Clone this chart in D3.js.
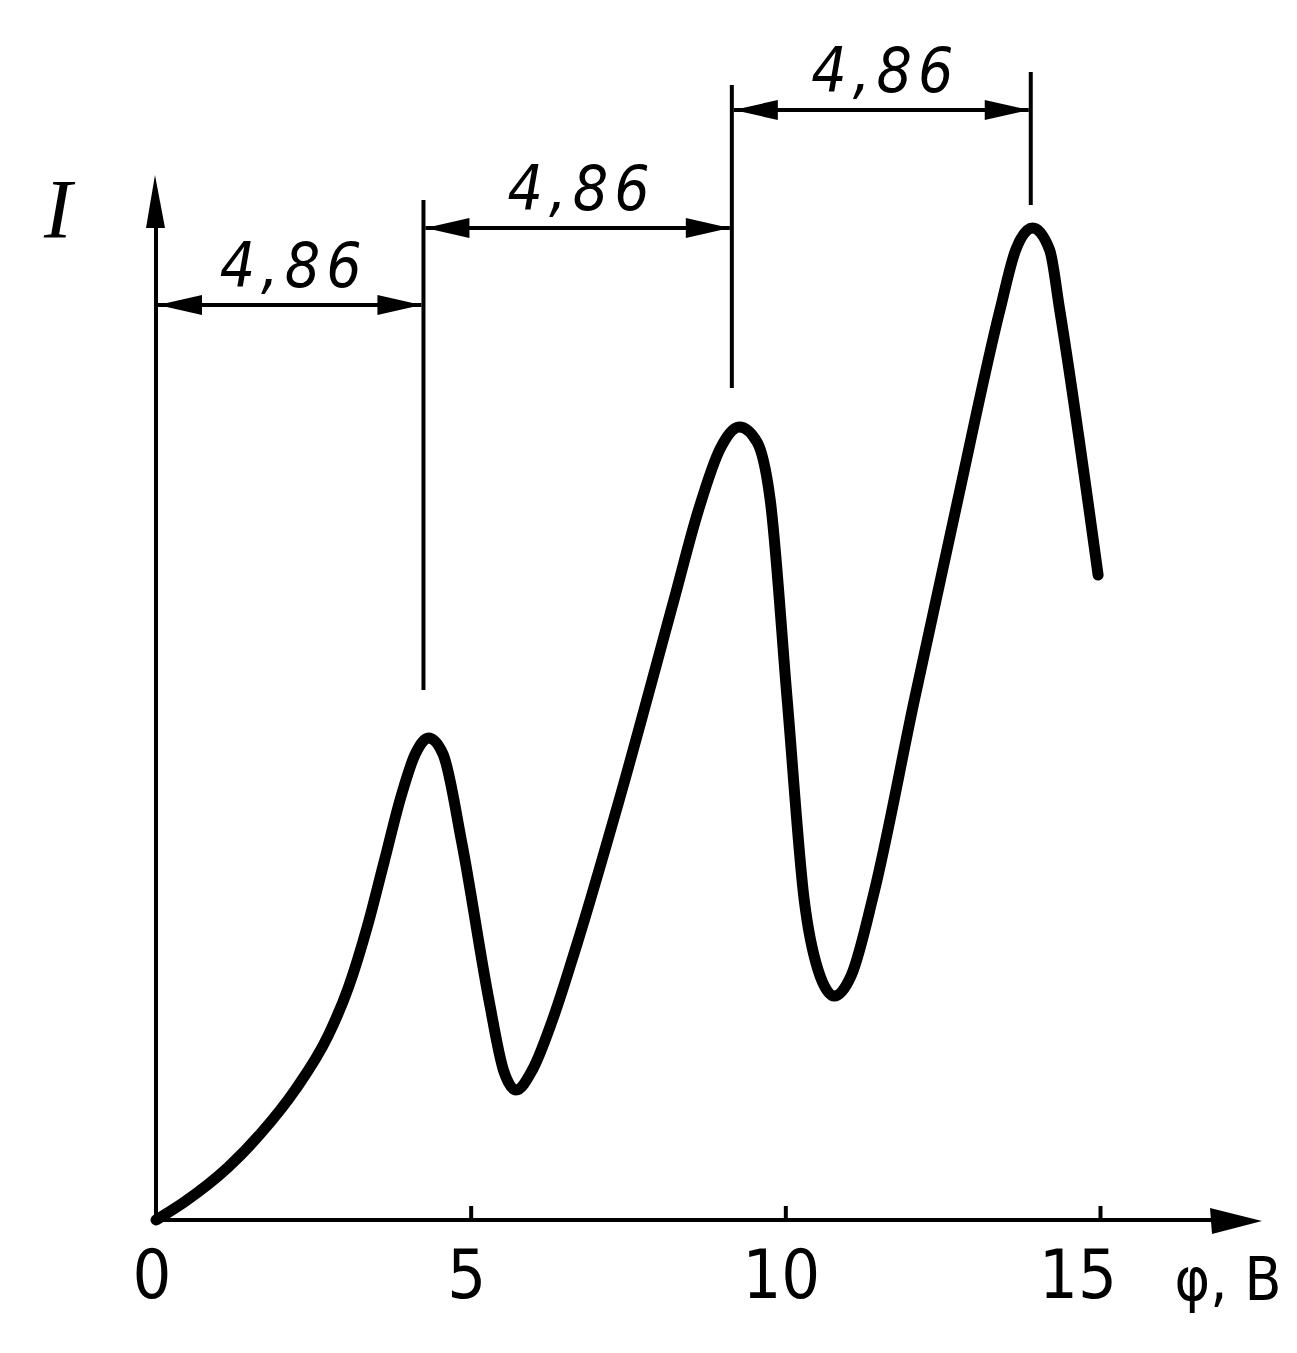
<!DOCTYPE html>
<html>
<head>
<meta charset="utf-8">
<script src="https://cdn.jsdelivr.net/npm/d3@7"></script>
<style>
  html, body { margin: 0; padding: 0; background: #fff; }
  svg { display: block; }
</style>
</head>
<body>
<script>
// ---- data ----
const voltage = [0, 0.45, 1.15, 1.67, 2.21, 2.74, 3.06, 3.36, 3.62, 3.90, 4.12, 4.33, 4.56, 4.86, 5.29, 5.52, 5.72, 5.98, 6.30, 6.67, 7.36, 8.23, 8.62, 8.97, 9.27, 9.55, 9.76, 10.03, 10.30, 10.52, 10.78, 11.05, 11.40, 12.05, 12.74, 13.41, 13.66, 13.93, 14.20, 14.36, 14.97];
const current = [0, 0.18, 0.53, 0.87, 1.30, 1.85, 2.33, 2.94, 3.57, 4.25, 4.66, 4.82, 4.66, 3.77, 2.20, 1.50, 1.30, 1.50, 2.00, 2.72, 4.20, 6.20, 7.10, 7.72, 7.93, 7.78, 7.20, 5.20, 3.20, 2.50, 2.24, 2.45, 3.25, 5.20, 7.20, 9.10, 9.70, 9.92, 9.70, 9.10, 6.45];
const xTickValues = [0, 5, 10, 15];
const xTickLabels = ["0", "5", "10", "15"];
const xAxisTitle = "φ, В";
const yAxisTitle = "I";
// spacing annotations between successive maxima
const markerU = [0, 4.25, 9.15, 13.9];          // extension line positions (V)
const markerTop = [10.4, 10.2, 11.35, 11.48];   // extension line tops (I units)
const markerBottom = [0, 5.3, 8.32, 10.15];     // extension line bottoms (I units)
const spanLevel = [9.15, 9.92, 11.1];           // dimension line level (I units)
const spanLabels = ["4,86", "4,86", "4,86"];

// ---- layout ----
const W = 1297, H = 1353;
const x = d3.scaleLinear().domain([0, 15]).range([156, 1100]);
const y = d3.scaleLinear().domain([0, 10]).range([1220, 220]);

const svg = d3.select("body").append("svg")
  .attr("width", W).attr("height", H)
  .style("background", "#fff");

const ink = "#000";

// axes
const gAxes = svg.append("g");
const x0 = x(0), y0 = y(0);
gAxes.append("line").attr("x1", x0).attr("y1", y0).attr("x2", 1225).attr("y2", y0)
  .attr("stroke", ink).attr("stroke-width", 4);
gAxes.append("path")
  .attr("d", `M1262,${y0 + 1} L1210,${y0 - 12} L1212,${y0 + 14} Z`).attr("fill", ink);
gAxes.append("line").attr("x1", x0).attr("y1", y0).attr("x2", x0).attr("y2", 215)
  .attr("stroke", ink).attr("stroke-width", 4);
gAxes.append("path")
  .attr("d", `M${x0 - 1},175 L${x0 - 10},228 L${x0 + 9},228 Z`).attr("fill", ink);

// ticks via d3 axis
const xAxis = d3.axisTop(x).tickValues(xTickValues.slice(1)).tickSize(14).tickFormat("");
const gx = svg.append("g").attr("transform", `translate(0,${y0})`).call(xAxis);
gx.select(".domain").remove();
gx.selectAll(".tick line").attr("stroke", ink).attr("stroke-width", 4);

// tick labels (hand-lettered labels sit slightly left of their ticks)
svg.append("g").selectAll("text").data(xTickValues).join("text")
  .attr("x", d => x(d) - 4 - (d >= 15 ? 18 : 0))
  .attr("y", 1298)
  .attr("text-anchor", "middle")
  .attr("font-family", "'DejaVu Sans Condensed', 'DejaVu Sans', sans-serif")
  .attr("font-size", 68)
  .attr("fill", ink)
  .text((d, i) => xTickLabels[i]);

// axis titles
svg.append("text").attr("x", 1228).attr("y", 1300).attr("text-anchor", "middle")
  .attr("font-family", "'DejaVu Sans Condensed', 'DejaVu Sans', sans-serif")
  .attr("font-size", 60).attr("fill", ink).text(xAxisTitle);
svg.append("text").attr("x", 58).attr("y", 238).attr("text-anchor", "middle")
  .attr("font-family", "'Liberation Serif', serif").attr("font-style", "italic")
  .attr("font-size", 84).attr("fill", ink).text(yAxisTitle);

// curve
const pts = voltage.map((u, i) => [u, current[i]]);
const line = d3.line().x(d => x(d[0])).y(d => y(d[1])).curve(d3.curveMonotoneX);
svg.append("path").attr("d", line(pts))
  .attr("fill", "none").attr("stroke", ink).attr("stroke-width", 11)
  .attr("stroke-linecap", "round").attr("stroke-linejoin", "round");

// annotation extension lines (skip the y-axis one)
const gAnn = svg.append("g");
markerU.forEach((u, i) => {
  if (i === 0) return;
  gAnn.append("line").attr("x1", x(u)).attr("x2", x(u))
    .attr("y1", y(markerTop[i])).attr("y2", y(markerBottom[i]))
    .attr("stroke", ink).attr("stroke-width", 4);
});

// dimension lines with arrows
spanLevel.forEach((lvl, i) => {
  const xa = x(markerU[i]) + 2, xb = x(markerU[i + 1]) - 2, yy = y(lvl);
  gAnn.append("line").attr("x1", xa).attr("x2", xb).attr("y1", yy).attr("y2", yy)
    .attr("stroke", ink).attr("stroke-width", 4);
  const aL = 44, aW = 10;
  gAnn.append("path").attr("d", `M${xa},${yy} L${xa + aL},${yy - aW} L${xa + aL},${yy + aW} Z`).attr("fill", ink);
  gAnn.append("path").attr("d", `M${xb},${yy} L${xb - aL},${yy - aW} L${xb - aL},${yy + aW} Z`).attr("fill", ink);
  gAnn.append("text")
    .attr("x", (xa + xb) / 2 + 4).attr("y", yy - 18)
    .attr("text-anchor", "middle")
    .attr("font-family", "'DejaVu Sans Condensed', 'DejaVu Sans', sans-serif")
    .attr("font-style", "italic")
    .attr("font-size", 62)
    .attr("letter-spacing", 6)
    .attr("fill", ink)
    .text(spanLabels[i]);
});
</script>
</body>
</html>
